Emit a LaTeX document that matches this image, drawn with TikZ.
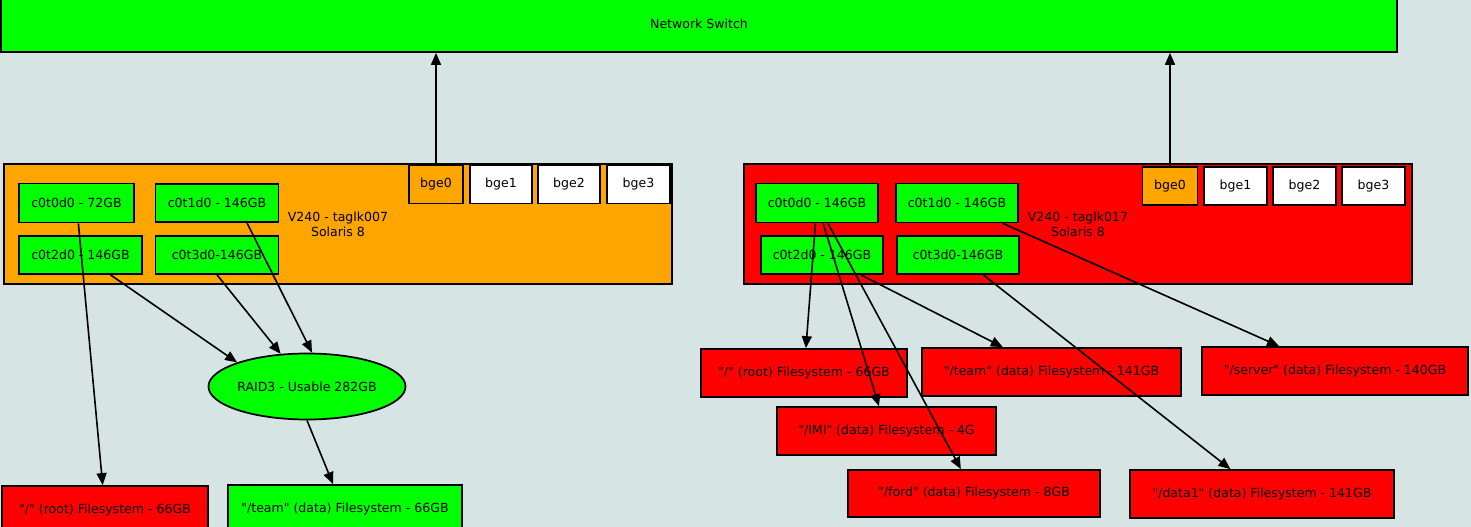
\documentclass[tikz,border=0pt]{standalone}
\usepackage{fontspec}
\setmainfont{DejaVu Sans}
\newfontfamily\dvs{DejaVu Sans}
\usetikzlibrary{arrows.meta,shapes.geometric,calc}
\definecolor{bgc}{RGB}{215,228,228}
\definecolor{gz}{RGB}{0,255,0}
\definecolor{rz}{RGB}{255,0,0}
\definecolor{oz}{RGB}{255,165,0}
\tikzset{
  every node/.style={font=\dvs\fontsize{9.4}{11.25}\selectfont, inner sep=0pt, align=center},
  bx/.style={draw=black, line width=1.3pt, rectangle},
  gbox/.style={bx, fill=gz},
  rbox/.style={bx, fill=rz},
  obox/.style={bx, fill=oz},
  wbox/.style={bx, fill=white},
  conn/.style={draw=black, line width=1.2pt, -{Triangle[length=9pt,width=7.5pt]}},
}
\begin{document}
\begin{tikzpicture}[x=0.75pt,y=-0.75pt]
\useasboundingbox (0,0) rectangle (1471,527);
\fill[bgc] (0,0) rectangle (1471,527);
\clip (0,0) rectangle (1471,527);
% switch
\node[gbox, minimum width=1047pt, minimum height=42pt] (sw) at (699,24) {Network Switch};
% left host
\node[obox, minimum width=501pt, minimum height=90pt] (lh) at (338,224) {V240 - taglk007\\Solaris 8};
\node[gbox, minimum width=86.25pt, minimum height=29.25pt] (c00) at (76.5,203) {c0t0d0 - 72GB};
\node[gbox, minimum width=92.25pt, minimum height=28.5pt] (c01) at (217,203) {c0t1d0 - 146GB};
\node[gbox, minimum width=92.25pt, minimum height=28.5pt] (c02) at (80.5,255) {c0t2d0 - 146GB};
\node[gbox, minimum width=92.25pt, minimum height=28.5pt] (c03) at (217,255) {c0t3d0-146GB};
\node[obox, minimum width=40.5pt, minimum height=28.5pt] (lb0) at (436,184.5) {bge0};
\node[wbox, minimum width=46.5pt, minimum height=28.5pt] (lb1) at (501,184.5) {bge1};
\node[wbox, minimum width=46.5pt, minimum height=28.5pt] (lb2) at (569,184.5) {bge2};
\node[wbox, minimum width=47.25pt, minimum height=28.5pt] (lb3) at (638.5,184.5) {bge3};
% right host
\node[rbox, minimum width=501pt, minimum height=90pt] (rh) at (1078,224) {V240 - taglk017\\Solaris 8};
\node[gbox, minimum width=91.5pt, minimum height=29.25pt] (r00) at (817,203) {c0t0d0 - 146GB};
\node[gbox, minimum width=91.5pt, minimum height=29.25pt] (r01) at (957,203) {c0t1d0 - 146GB};
\node[gbox, minimum width=91.5pt, minimum height=28.5pt] (r02) at (822,255) {c0t2d0 - 146GB};
\node[gbox, minimum width=91.5pt, minimum height=28.5pt] (r03) at (958,255) {c0t3d0-146GB};
\node[obox, minimum width=41.25pt, minimum height=28.5pt] (rb0) at (1170,186) {bge0};
\node[wbox, minimum width=47.25pt, minimum height=28.5pt] (rb1) at (1235.5,186) {bge1};
\node[wbox, minimum width=47.25pt, minimum height=28.5pt] (rb2) at (1304.5,186) {bge2};
\node[wbox, minimum width=47.25pt, minimum height=28.5pt] (rb3) at (1373.5,186) {bge3};
% left storage
\node[draw=black, line width=1.3pt, ellipse, fill=gz, minimum width=140pt, minimum height=49.5pt] (raid) at (307,386.5) {RAID3 - Usable 282GB};
\node[rbox, minimum width=154.5pt, minimum height=36pt] (lroot) at (105,510) {"/" (root) Filesystem - 66GB};
\node[gbox, minimum width=175.5pt, minimum height=36pt] (lteam) at (345,509) {"/team" (data) Filesystem - 66GB};
% right filesystems
\node[rbox, minimum width=154.5pt, minimum height=36pt] (rroot) at (804,373) {"/" (root) Filesystem - 66GB};
\node[rbox, minimum width=194.25pt, minimum height=36pt] (rteam) at (1051.5,372) {"/team" (data) Filesystem - 141GB};
\node[rbox, minimum width=199.5pt, minimum height=36pt] (rserver) at (1335,371) {"/server" (data) Filesystem - 140GB};
\node[rbox, minimum width=164.25pt, minimum height=36pt] (rimi) at (886.5,431) {"/IMI" (data) Filesystem - 4G};
\node[rbox, minimum width=189pt, minimum height=35.25pt] (rford) at (974,493.5) {"/ford" (data) Filesystem - 8GB};
\node[rbox, minimum width=198pt, minimum height=36pt] (rdata) at (1262,494) {"/data1" (data) Filesystem - 141GB};
% edges
\draw[conn] (lb0.north) -- (lb0.north |- sw.south);
\draw[conn] (rb0.north) -- (rb0.north |- sw.south);
\draw[conn] (c00) -- (lroot);
\draw[conn] ($(c02.south)+(30,0)$) -- (raid.161);
\draw[conn] (c03.south) -- (raid);
\draw[conn] ($(c01.south)+(30,0)$) -- ($(raid.north)+(5,0)$);
\draw[conn] (raid.south) -- ($(lteam.north)+(-12,0)$);
\draw[conn] (r00) -- (rroot);
\draw[conn] (r00) -- (rimi);
\draw[conn] (r00) -- (rford);
\draw[conn] (r02) -- (rteam);
\draw[conn] (r01) -- (rserver);
\draw[conn] (r03) -- (rdata);
\end{tikzpicture}
\end{document}
